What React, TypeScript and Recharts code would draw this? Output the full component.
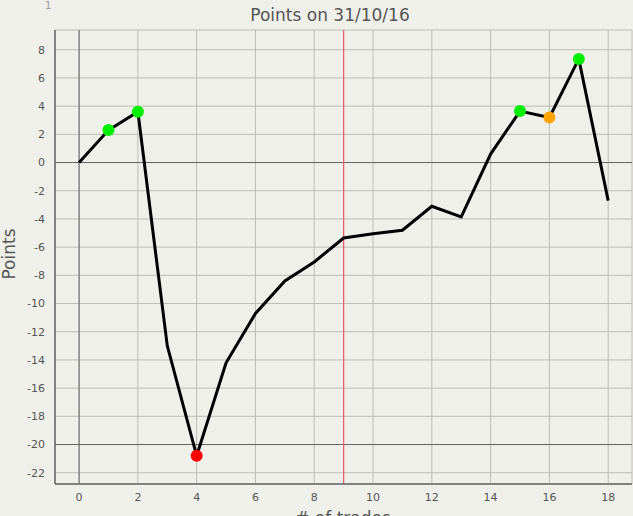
import React from 'react';
import { LineChart, Line, XAxis, YAxis, CartesianGrid, ReferenceLine } from 'recharts';

// trade index and running points
const trades = [0, 1, 2, 3, 4, 5, 6, 7, 8, 9, 10, 11, 12, 13, 14, 15, 16, 17, 18];
const points = [0, 2.3, 3.6, -13.0, -20.8, -14.2, -10.7, -8.4, -7.05, -5.35, -5.05, -4.8, -3.1, -3.85, 0.6, 3.65, 3.2, 7.35, -2.7];
// marker colour per trade ('' = no marker)
const markers = ['', '#00ee00', '#00ee00', '', '#ff0000', '', '', '', '', '', '', '', '', '', '', '#00ee00', '#ffa500', '#00ee00', ''];

const xTicks = [0, 2, 4, 6, 8, 10, 12, 14, 16, 18];
const yTicks = [-22, -20, -18, -16, -14, -12, -10, -8, -6, -4, -2, 0, 2, 4, 6, 8];

const data = trades.map((t, i) => ({ trade: t, points: points[i], color: markers[i] }));

const FONT = '"DejaVu Sans", Verdana, sans-serif';
const TEXT = '#555';

const MarkerDot = (props: any) => {
  const { cx, cy, payload, index } = props;
  if (!payload.color) return <g key={`d${index}`} />;
  return <circle key={`d${index}`} cx={cx} cy={cy} r={6} fill={payload.color} stroke="none" />;
};

export default function App() {
  return (
    <div
      style={{
        position: 'absolute',
        left: 0,
        top: 0,
        width: 633,
        height: 516,
        overflow: 'hidden',
        background: '#f0f0ea',
        fontFamily: FONT,
      }}
    >
      <div style={{ position: 'absolute', left: 45, top: 0, fontSize: 10, color: '#999' }}>1</div>
      <div
        style={{
          position: 'absolute',
          left: 0,
          width: 660,
          top: 4,
          textAlign: 'center',
          fontSize: 17,
          color: TEXT,
          lineHeight: '22px',
        }}
      >
        Points on 31/10/16
      </div>
      <div
        style={{
          position: 'absolute',
          left: 9,
          top: 254,
          transform: 'translate(-50%, -50%) rotate(-90deg)',
          fontSize: 17,
          color: TEXT,
          whiteSpace: 'nowrap',
          lineHeight: '18px',
        }}
      >
        Points
      </div>
      <div
        style={{
          position: 'absolute',
          left: 0,
          width: 686,
          top: 507,
          textAlign: 'center',
          fontSize: 17,
          color: TEXT,
          lineHeight: '22px',
        }}
      >
        # of trades
      </div>
      <LineChart width={633} height={516} data={data} margin={{ top: 30, right: 1, bottom: 0, left: 0 }}>
        <CartesianGrid stroke="#bdbdb6" strokeWidth={1} />
        <XAxis
          dataKey="trade"
          type="number"
          domain={[-0.82, 18.81]}
          ticks={xTicks}
          allowDataOverflow
          height={32}
          tickLine={false}
          axisLine={{ stroke: '#666', strokeWidth: 1.5 }}
          tick={{ fill: TEXT, fontSize: 11, fontFamily: FONT }}
          tickMargin={3}
        />
        <YAxis
          type="number"
          domain={[-22.8, 9.4]}
          ticks={yTicks}
          allowDataOverflow
          width={55}
          tickLine={false}
          axisLine={{ stroke: '#666', strokeWidth: 1.5 }}
          tick={{ fill: TEXT, fontSize: 11, fontFamily: FONT }}
          tickMargin={4}
        />
        <ReferenceLine y={0} stroke="#666" strokeWidth={1} />
        <ReferenceLine y={-20} stroke="#666" strokeWidth={1} />
        <ReferenceLine x={0} stroke="#666" strokeWidth={1} />
        <ReferenceLine x={9} stroke="#e8576a" strokeWidth={1.2} />
        <Line
          type="linear"
          dataKey="points"
          stroke="#000"
          strokeWidth={3}
          dot={MarkerDot}
          activeDot={false}
          isAnimationActive={false}
        />
      </LineChart>
    </div>
  );
}
